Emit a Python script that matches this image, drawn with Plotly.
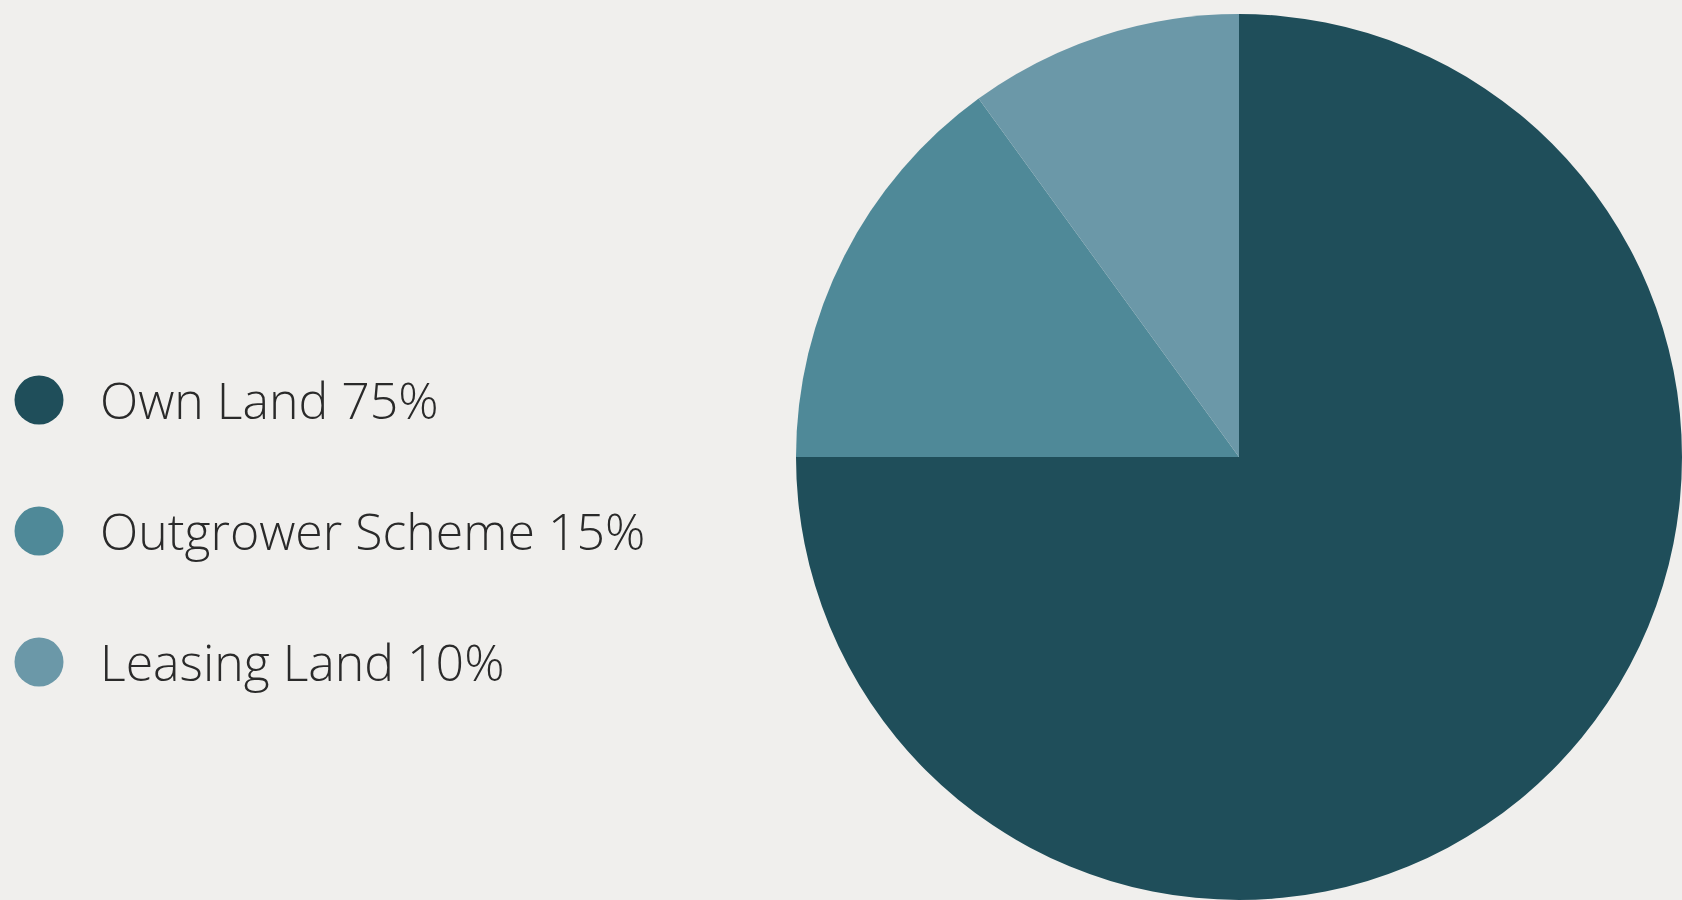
import plotly.graph_objects as go

# Land sourcing shares (%)
categories = ["Own Land", "Outgrower Scheme", "Leasing Land"]
shares = [75, 15, 10]
colors = ["#1F4E5A", "#4F8998", "#6B98A8"]

W, H = 1682, 900
BG = "#F0EFED"

# pie geometry in pixels
cx, cy, r = 1244, 457, 443
x0 = (cx - r) / W
x1 = min(1.0, (cx + r) / W)
if x1 == 1.0:
    x0 = 1.0 - 2 * r / W
y0 = 1 - (cy + r) / H
y1 = 1 - (cy - r) / H

fig = go.Figure()

fig.add_trace(go.Pie(
    labels=categories,
    values=shares,
    marker=dict(colors=colors, line=dict(width=0)),
    sort=False,
    direction="clockwise",
    rotation=0,
    textinfo="none",
    hoverinfo="label+percent",
    showlegend=False,
    domain=dict(x=[x0, x1], y=[max(0, y0), min(1, y1)]),
))

# custom legend: round swatches with labels
legend_y = [400, 531, 662]
fig.add_trace(go.Scatter(
    x=[39] * len(categories),
    y=legend_y,
    mode="markers",
    marker=dict(size=49, color=colors, line=dict(width=0)),
    hoverinfo="skip",
    showlegend=False,
))

for name, val, yy in zip(categories, shares, legend_y):
    fig.add_annotation(
        x=98, y=yy, xref="x", yref="y",
        text=f"{name} {val}%",
        showarrow=False,
        xanchor="left", yanchor="middle",
        font=dict(family="Open Sans", size=50, color="#2A2A2A", weight=300),
    )

fig.update_layout(
    width=W, height=H,
    margin=dict(l=0, r=0, t=0, b=0),
    paper_bgcolor=BG,
    plot_bgcolor=BG,
    xaxis=dict(range=[0, W], visible=False, fixedrange=True),
    yaxis=dict(range=[H, 0], visible=False, fixedrange=True),
)

fig.write_html("out.html")
